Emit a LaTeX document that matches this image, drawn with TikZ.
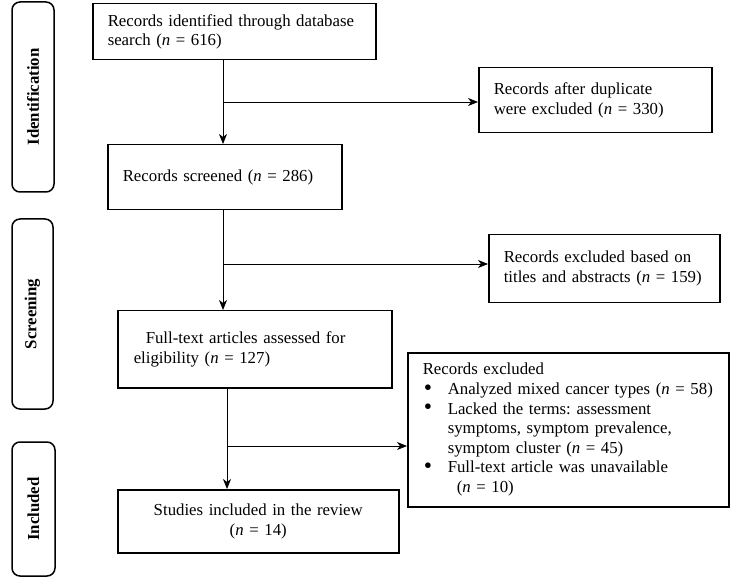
\documentclass[tikz,border=0pt]{standalone}
\usepackage{fontspec}
\setmainfont{Liberation Serif}
\usetikzlibrary{arrows.meta,calc}
\frenchspacing
\newcommand\mybul{\makebox[25pt][l]{\hspace{1pt}\smash{\raisebox{-0.5pt}{\scalebox{1.4}{\textbullet}}}}}
\begin{document}
\begin{tikzpicture}[x=1pt,y=-1pt,
  every node/.style={font=\fontsize{16.8}{19.6}\selectfont},
  box/.style={draw, line width=1.5pt, anchor=north west, inner xsep=15pt, inner ysep=0pt, align=left},
  sidebox/.style={draw, line width=1.5pt, rounded corners=8pt, rotate=90, inner sep=0pt, font=\fontsize{16.8}{19.6}\selectfont\bfseries},
  arr/.style={line width=0.9pt, -{Stealth[length=10pt,width=8pt,inset=3pt]}}]
\useasboundingbox (0,0) rectangle (731,577);
% side labels
\node[sidebox, minimum width=190pt, minimum height=42pt] (sid) at (33,97) {Identification};
\node[sidebox, minimum width=190pt, minimum height=41pt] (sscr) at (32.5,314) {Screening};
\node[sidebox, minimum width=134pt, minimum height=43pt] (sinc) at (33.5,509) {Included};
% boxes
\node[box, minimum width=283pt, minimum height=56pt, text width=253pt] (b1) at (92,3)
  {Records identified through database search (\textit{n} = 616)};
\node[box, minimum width=233pt, minimum height=65pt, text width=203pt] (b3) at (478,67)
  {Records after duplicate\\were excluded (\textit{n} = 330)\\[6pt]};
\node[box, minimum width=234pt, minimum height=65pt, text width=204pt] (b2) at (107,144)
  {Records screened (\textit{n} = 286)};
\node[box, minimum width=231pt, minimum height=68pt, text width=201pt] (b5) at (488,234)
  {Records excluded based on\\titles and abstracts (\textit{n} = 159)\\[4pt]};
\node[box, minimum width=274pt, minimum height=77pt, text width=242pt, inner xsep=16pt] (b4) at (117,310)
  {\hspace*{12pt}Full-text articles assessed for\\eligibility (\textit{n} = 127)};
\node[box, minimum width=321pt, minimum height=154pt, text width=291pt] (b7) at (407,352)
  {Records excluded\\
   \mybul Analyzed mixed cancer types (\textit{n} = 58)\\
   \mybul Lacked the terms: assessment\\
   \hspace*{25pt}symptoms, symptom prevalence,\\
   \hspace*{25pt}symptom cluster (\textit{n} = 45)\\
   \mybul Full-text article was unavailable\\
   \hspace*{34pt}(\textit{n} = 10)};
\node[box, minimum width=281pt, minimum height=63pt, text width=251pt, align=center] (b6) at (117,489)
  {Studies included in the review\\(\textit{n} = 14)};
% junctions
\coordinate (j1) at (223,102);
\coordinate (j2) at (223,264);
\coordinate (j3) at (227,446);
% connectors
\draw[arr] (b1.south -| j1) -- (b2.north -| j1);
\draw[arr] (j1) -- (j1 -| b3.west);
\draw[arr] (b2.south -| j2) -- (b4.north -| j2);
\draw[arr] (j2) -- (j2 -| b5.west);
\draw[arr] (b4.south -| j3) -- (b6.north -| j3);
\draw[arr] (j3) -- (j3 -| b7.west);
\end{tikzpicture}
\end{document}
